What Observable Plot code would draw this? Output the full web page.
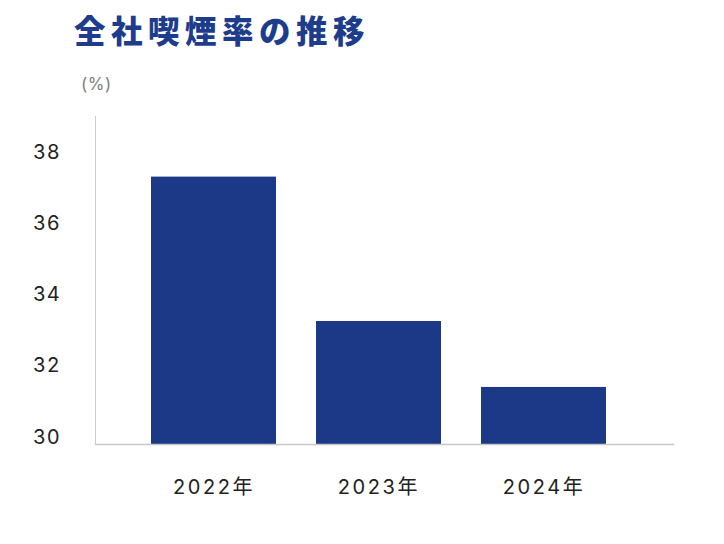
<!DOCTYPE html>
<html><head><meta charset="utf-8">
<script src="https://cdn.jsdelivr.net/npm/d3@7"></script>
<script src="https://cdn.jsdelivr.net/npm/@observablehq/plot@0.6"></script>
<style>
body{margin:0;background:#fff;width:724px;height:544px;overflow:hidden;}
#head{position:relative;height:100px;}
#title{position:absolute;left:74px;top:14px;font-family:"Noto Sans CJK JP";font-weight:900;font-size:31.5px;letter-spacing:5.5px;color:#1d3c8c;line-height:1;white-space:nowrap;}
#unit{position:absolute;left:81px;top:74px;font-family:Inter,"Noto Sans CJK JP";font-size:17px;letter-spacing:0.5px;color:#808080;}
svg{display:block;}
g[aria-label="x-axis tick label"] text{letter-spacing:2.6px;}
g[aria-label="y-axis tick label"] text{letter-spacing:0.8px;}
</style></head>
<body>
<div id="head"><div id="title">全社喫煙率の推移</div><div id="unit">(%)</div></div>
<div id="chart"></div>
<script>
const years = ["2022年", "2023年", "2024年"];
const rates = [37.3, 33.25, 31.4];
const yTicks = [30, 32, 34, 36, 38];
const yMin = 29.8, yMax = 39;

const data = years.map((y, i) => ({year: y, rate: rates[i]}));
const font = 'Inter,"Noto Sans CJK JP"';

const chart = Plot.plot({
  width: 724,
  height: 444,
  marginTop: 16,
  marginBottom: 100,
  marginLeft: 95,
  marginRight: 51,
  style: {fontFamily: font, fontSize: "20px", color: "#222", background: "#fff"},
  x: {domain: years, range: [150, 606], paddingInner: 0.245, paddingOuter: 0, label: null},
  y: {domain: [yMin, yMax], label: null},
  marks: [
    Plot.barY(data, {x: "year", y1: yMin, y2: "rate", fill: "#1b3987", inset: 0}),
    Plot.frame({anchor: "left", stroke: "#cccccc"}),
    Plot.frame({anchor: "bottom", stroke: "#c8c8c8", strokeWidth: 1.5}),
    Plot.axisY({ticks: yTicks, tickSize: 0, tickPadding: 35, fontSize: 20, label: null}),
    Plot.axisX({tickSize: 0, tickPadding: 35, fontSize: 20, label: null})
  ]
});
document.getElementById("chart").appendChild(chart);
</script>
</body></html>
